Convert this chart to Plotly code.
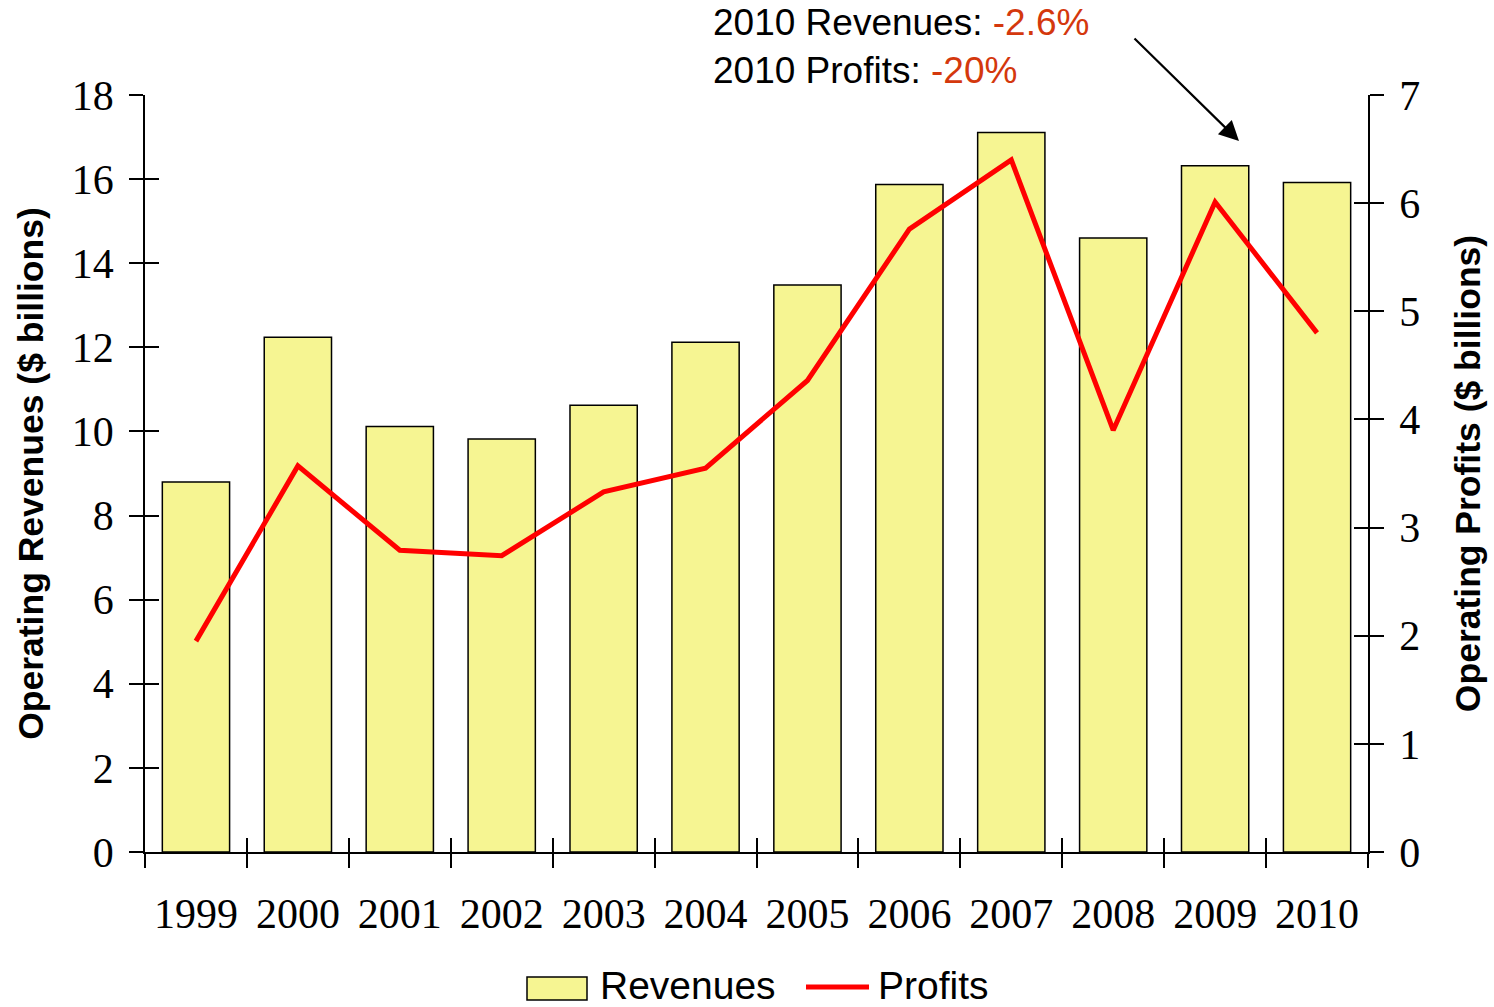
import plotly.graph_objects as go

years = ["1999", "2000", "2001", "2002", "2003", "2004", "2005", "2006", "2007", "2008", "2009", "2010"]
revenues = [8.80, 12.24, 10.12, 9.82, 10.62, 12.12, 13.48, 15.87, 17.11, 14.60, 16.32, 15.92]
profits = [1.95, 3.57, 2.79, 2.74, 3.33, 3.55, 4.36, 5.76, 6.40, 3.90, 6.01, 4.80]

serif = "Liberation Serif"
sans = "Liberation Sans"

W, H = 1494, 1007
L, R, T, B = 145, 126, 95, 155
PW, PH = W - L - R, H - T - B


def px_x(px):
    return (px - L) / PW


def px_y(py):
    return (H - B - py) / PH


fig = go.Figure()
fig.add_trace(go.Bar(
    x=years, y=revenues, name="Revenues", width=0.66,
    marker=dict(color="#f6f592", line=dict(color="black", width=1.5)),
    xaxis="x", yaxis="y", showlegend=False,
))
fig.add_trace(go.Scatter(
    x=years, y=profits, name="Profits", mode="lines",
    line=dict(color="#ff0000", width=5),
    xaxis="x2", yaxis="y2", showlegend=False,
))
fig.add_trace(go.Scatter(x=years, y=revenues, mode="none", showlegend=False, hoverinfo="skip",
                         xaxis="x2", yaxis="y3"))
fig.add_trace(go.Scatter(x=years, y=profits, mode="none", showlegend=False, hoverinfo="skip",
                         xaxis="x2", yaxis="y4"))

tickfont = dict(family=serif, size=42, color="black")
common_x = dict(type="category", categoryorder="array", categoryarray=years,
                range=[-0.5, 11.5], tickson="boundaries", ticklen=14, automargin=False,
                tickcolor="black", tickwidth=1.5, showgrid=False, zeroline=False)
common_y = dict(ticklen=14, tickwidth=1.5, tickcolor="black", automargin=False,
                showgrid=False, zeroline=False)
title_font = dict(family=sans, size=35.5, color="black")

fig.update_layout(
    width=W, height=H,
    paper_bgcolor="white", plot_bgcolor="white",
    margin=dict(l=L, r=R, t=T, b=B, autoexpand=False),
    showlegend=False,
    xaxis=dict(**common_x, ticks="outside", showline=True, linecolor="black", linewidth=1.5,
               tickfont=tickfont, ticklabelstandoff=24),
    xaxis2=dict(**common_x, ticks="inside", overlaying="x", anchor="y", side="bottom",
                showticklabels=False, showline=False),
    yaxis=dict(**common_y, range=[0, 18], tick0=0, dtick=2, ticks="outside",
               showline=True, linecolor="black", linewidth=1.5,
               tickfont=tickfont, ticklabelstandoff=7,
               title=dict(text="<b>Operating Revenues ($ billions)</b>", font=title_font, standoff=17)),
    yaxis3=dict(**common_y, range=[0, 18], tick0=0, dtick=2, ticks="inside",
                overlaying="y", anchor="x", side="left", showticklabels=False, showline=False),
    yaxis2=dict(**common_y, range=[0, 7], tick0=0, dtick=1, ticks="outside",
                showline=True, linecolor="black", linewidth=1.5,
                overlaying="y", side="right", anchor="x",
                tickfont=tickfont, ticklabelstandoff=7,
                title=dict(text="<b>Operating Profits ($ billions)</b>", font=title_font, standoff=36)),
    yaxis4=dict(**common_y, range=[0, 7], tick0=0, dtick=1, ticks="inside",
                overlaying="y", side="right", anchor="x", showticklabels=False, showline=False),
    shapes=[
        # legend keys
        dict(type="rect", xref="paper", yref="paper",
             x0=px_x(527), x1=px_x(587), y0=px_y(1000), y1=px_y(977),
             fillcolor="#f6f592", line=dict(color="black", width=1.5)),
        dict(type="line", xref="paper", yref="paper",
             x0=px_x(806), x1=px_x(869), y0=px_y(987), y1=px_y(987),
             line=dict(color="#ff0000", width=5)),
    ],
    annotations=[
        dict(xref="paper", yref="paper", x=px_x(598), y=px_y(985), xanchor="left", yanchor="middle",
             text="Revenues", showarrow=False, font=dict(family=sans, size=39, color="black")),
        dict(xref="paper", yref="paper", x=px_x(876), y=px_y(985), xanchor="left", yanchor="middle",
             text="Profits", showarrow=False, font=dict(family=sans, size=39, color="black")),
        dict(xref="paper", yref="paper", x=px_x(1239), y=px_y(141), ax=-106, ay=-104,
             axref="pixel", ayref="pixel", text="", showarrow=True,
             arrowhead=2, arrowsize=1.8, arrowwidth=2.2, arrowcolor="black"),
        dict(xref="paper", yref="paper", x=px_x(711), y=px_y(0),
             xanchor="left", yanchor="top", align="left", showarrow=False,
             text="2010 Revenues: <span style='color:#d4380d'>-2.6%</span><br>"
                  "2010 Profits: <span style='color:#d4380d'>-20%</span>",
             font=dict(family=sans, size=37, color="black")),
    ],
)

fig.write_html("out.html", config={"displayModeBar": False},
               post_script="document.body.style.margin='0';document.body.style.overflow='hidden';")
